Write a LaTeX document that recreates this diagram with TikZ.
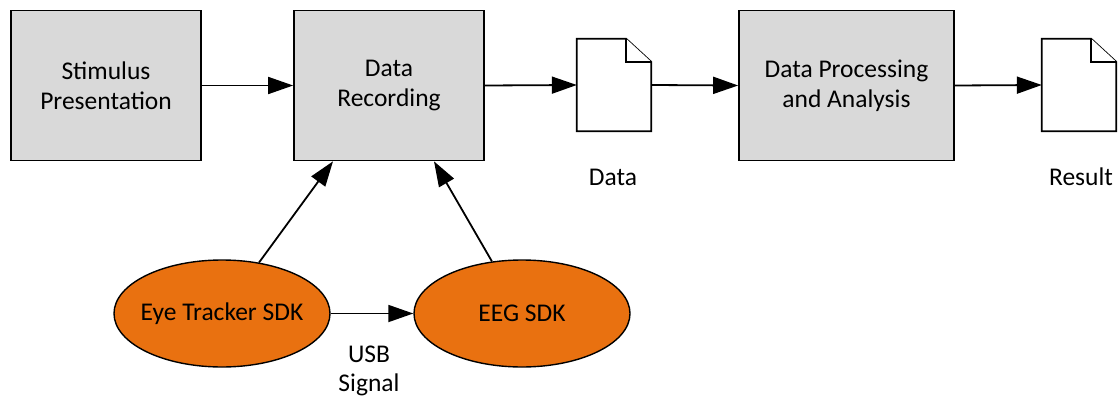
\documentclass[tikz,border=0pt]{standalone}
\usepackage{fontspec}
\setmainfont{Carlito}
\usetikzlibrary{arrows.meta,shapes.geometric,calc}
\definecolor{boxgray}{HTML}{D9D9D9}
\definecolor{sdkorange}{HTML}{E97110}
\tikzset{
  stagebox/.style={draw=black, fill=boxgray, line width=1.7pt, align=center,
    inner sep=0pt, minimum height=150pt},
  sdknode/.style={draw=black, fill=sdkorange, ellipse, line width=1.4pt,
    inner sep=0pt, minimum width=216pt, minimum height=107pt},
  docarea/.style={inner sep=0pt, minimum width=74pt, minimum height=92pt},
  docline/.style={draw=black, fill=white, line width=1.7pt, line join=miter},
  flow/.style={line width=1.8pt, -{Triangle[length=25pt,width=17pt]}},
  caption/.style={align=center, inner sep=0pt}
}
% keep the ellipse size fixed regardless of the label width
\newcommand{\sdklabel}[1]{\makebox[100pt]{#1}}
\begin{document}
\begin{tikzpicture}[x=1pt,y=-1pt,font=\fontsize{25.5}{30}\selectfont]
\useasboundingbox (0,0) rectangle (1119,396);

% processing stages
\node[stagebox, minimum width=190pt] (stim) at (106,85.5) {Stimulus\\Presentation};
\node[stagebox, minimum width=190pt] (rec) at (389,85.5) {Data\\Recording};
\node[stagebox, minimum width=215pt] (proc) at (846.5,85.5) {Data Processing\\and Analysis};

% document symbols
\node[docarea] (datadoc) at (614,85) {};
\node[docarea] (resdoc) at (1079,85) {};
\foreach \d in {datadoc,resdoc}{
  \draw[docline] (\d.north west) -- ($(\d.north east)+(-25,0)$)
    -- ($(\d.north east)+(0,23)$) -- (\d.south east) -- (\d.south west) -- cycle;
  \draw[docline] ($(\d.north east)+(-25,0)$) -- ($(\d.north east)+(-25,23)$)
    -- ($(\d.north east)+(0,23)$);
}
\node[caption, anchor=base] (datalbl) at (613,185) {Data};
\node[caption, anchor=base] (reslbl) at (1081,185) {Result};

% SDKs
\node[sdknode] (eye) at (222,313.5) {\sdklabel{Eye Tracker SDK}};
\node[sdknode] (eeg) at (522,313.5) {\sdklabel{EEG SDK}};
\node[caption, anchor=base, font=\fontsize{25.5}{28.5}\selectfont] (usb) at (369,391) {USB\\Signal};

% connectors
\draw[flow] (stim.east) -- (rec.west);
\draw[flow] (rec.east) -- (datadoc.west);
\draw[flow] (datadoc.east) -- (proc.west);
\draw[flow] (proc.east) -- (resdoc.west);
\draw[flow] (eye.east) -- (eeg.west);
\draw[flow] (eye.54) -- ($(rec.south)+(-56,0)$);
\draw[flow] (eeg.120) -- ($(rec.south)+(45,0)$);
\end{tikzpicture}
\end{document}
